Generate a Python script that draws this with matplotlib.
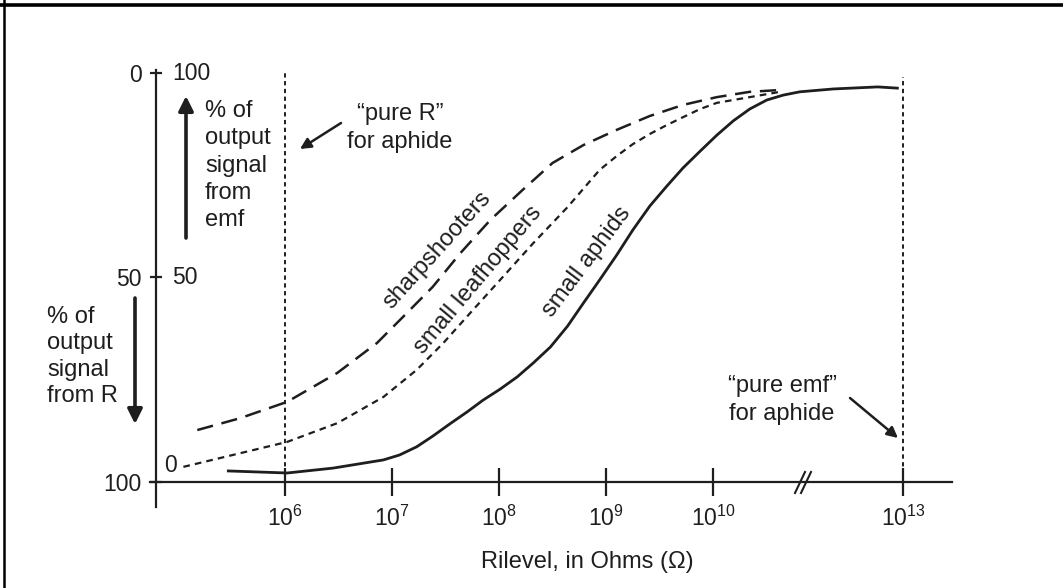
import numpy as np
import matplotlib
matplotlib.use("Agg")
import matplotlib.pyplot as plt
from matplotlib.lines import Line2D

plt.rcParams['font.family'] = ['Liberation Sans', 'DejaVu Sans']
plt.rcParams['mathtext.fontset'] = 'custom'
plt.rcParams['mathtext.rm'] = 'Liberation Sans'
plt.rcParams['mathtext.it'] = 'Liberation Sans'

INK = '#1e1e1e'

# Resistance (log10 of Ohms) and % of output signal from emf for each insect group
sharp_logR = [5.18, 5.58, 6.02, 6.49, 6.86, 7.10, 7.38, 7.64, 7.92, 8.22, 8.50, 8.79,
              9.10, 9.41, 9.72, 10.06, 10.58, 11.01]
sharp_pct = [12.7, 15.6, 19.6, 26.7, 34.0, 40.3, 47.7, 56.0, 64.1, 71.4, 78.0, 82.4,
             86.1, 89.5, 92.2, 94.1, 95.4, 95.8]

leaf_logR = [5.05, 6.02, 6.49, 6.92, 7.23, 7.48, 7.73, 8.01, 8.32, 8.64, 8.94, 9.10,
             9.25, 9.41, 9.57, 9.72, 9.88, 10.06, 10.58, 11.06]
leaf_pct = [3.7, 9.8, 14.4, 20.8, 27.4, 34.0, 41.3, 49.4, 58.4, 67.2, 76.3, 79.7,
            82.6, 85.1, 87.3, 89.2, 91.2, 92.7, 94.1, 95.4]

aphid_logR = [5.47, 6.02, 6.45, 6.92, 7.07, 7.23, 7.38, 7.54, 7.70, 7.85, 8.01, 8.17,
              8.32, 8.48, 8.64, 8.79, 8.94, 9.10, 9.25, 9.41, 9.57, 9.72, 9.88, 10.06,
              10.32, 10.58, 10.85, 11.11, 11.37, 11.90, 12.60, 12.91]
aphid_pct = [2.7, 2.2, 3.4, 5.4, 6.6, 8.6, 11.2, 14.2, 17.1, 20.0, 22.7, 25.7,
             29.1, 33.0, 38.1, 43.8, 49.4, 55.5, 61.6, 67.5, 72.4, 76.8, 80.9, 84.8,
             88.3, 91.2, 93.4, 94.6, 95.4, 96.1, 96.6, 96.3]

x_ticks = [6, 7, 8, 9, 10, 13]
x_tick_labels = [r'$10^{6}$', r'$10^{7}$', r'$10^{8}$', r'$10^{9}$', r'$10^{10}$', r'$10^{13}$']
y_ticks = [0, 50, 100]
r_scale_labels = ['100', '50', '0']      # % from R (left side)
emf_scale_labels = ['0', '50', '100']    # % from emf (right side)

pure_R_logR = 6
pure_emf_logR = 13

# Broken x axis: decades above 10^10 are compressed
BREAK = 10.0
K = 190.0 / (3 * 107.0)


def fwd(v):
    v = np.asarray(v, dtype=float)
    return np.where(v <= BREAK, v, BREAK + (v - BREAK) * K)


def inv(p):
    p = np.asarray(p, dtype=float)
    return np.where(p <= BREAK, p, BREAK + (p - BREAK) / K)


W, H = 1063, 588
fig = plt.figure(figsize=(W / 100, H / 100), dpi=100)
ax = fig.add_axes([0, 0, 1, 1])
ax.set_xscale('function', functions=(fwd, inv))
ax.set_xlim(3.336, 15.526)
ax.set_ylim(-25.92, 117.85)
ax.patch.set_alpha(0)

# axes lines
y_axis_x = 4.794
ax.spines['top'].set_visible(False)
ax.spines['right'].set_visible(False)
ax.spines['bottom'].set_position(('data', 0))
ax.spines['bottom'].set_bounds(4.738, 13.77)
ax.spines['left'].set_position(('data', y_axis_x))
ax.spines['left'].set_bounds(-6.1, 100.7)
for s in ('bottom', 'left'):
    ax.spines[s].set_linewidth(1.6)
    ax.spines[s].set_color(INK)

ax.set_xticks(x_ticks)
ax.set_xticklabels(x_tick_labels)
ax.xaxis.set_minor_locator(matplotlib.ticker.NullLocator())
ax.tick_params(axis='x', direction='inout', length=20, width=1.6, color=INK,
               labelsize=16.5, labelcolor=INK, pad=7)
ax.set_yticks(y_ticks)
ax.set_yticklabels(r_scale_labels)
ax.tick_params(axis='y', direction='inout', length=9, width=1.6, color=INK,
               labelsize=16.5, labelcolor=INK, pad=6)

# right-hand (emf) scale labels next to the y axis
for yv, lab in zip(y_ticks, emf_scale_labels):
    if yv == 0:
        ax.annotate(lab, xy=(y_axis_x, yv), xytext=(8, 5), textcoords='offset pixels',
                    ha='left', va='bottom', fontsize=16.5, color=INK)
    else:
        ax.annotate(lab, xy=(y_axis_x, yv), xytext=(16, 0), textcoords='offset pixels',
                    ha='left', va='center', fontsize=16.5, color=INK)

# reference lines for pure R / pure emf
ax.plot([pure_R_logR, pure_R_logR], [0, 100], color=INK, lw=1.4, ls=(0, (2.2, 1.8)))
ax.plot([pure_emf_logR, pure_emf_logR], [0, 99], color=INK, lw=1.4, ls=(0, (2.2, 1.8)))

# curves
ax.plot(sharp_logR, sharp_pct, color=INK, lw=1.8, ls=(0, (6.5, 3.5)))
ax.plot(leaf_logR, leaf_pct, color=INK, lw=1.6, ls=(0, (3.0, 2.3)))
ax.plot(aphid_logR, aphid_pct, color=INK, lw=2.0, ls='-')


def fp(x, y):
    return (x, H - y)


def text(x, y, s, **kw):
    kw.setdefault('fontsize', 17)
    kw.setdefault('color', INK)
    ax.annotate(s, xy=fp(x, y), xycoords='figure pixels', **kw)


def arrow(x0, y0, x1, y1, lw=2.2, ms=20):
    ax.annotate('', xy=fp(x1, y1), xytext=fp(x0, y0), xycoords='figure pixels',
                textcoords='figure pixels',
                arrowprops=dict(arrowstyle='-|>', lw=lw, color=INK,
                                mutation_scale=ms, shrinkA=0, shrinkB=0))


# curve labels
text(437, 250, 'sharpshooters', rotation=48, ha='center', va='center', rotation_mode='anchor')
text(478, 280, 'small leafhoppers', rotation=50, ha='center', va='center', rotation_mode='anchor')
text(587, 262, 'small aphids', rotation=53, ha='center', va='center', rotation_mode='anchor')

# scale descriptions with direction arrows
text(205, 100, '% of\noutput\nsignal\nfrom\nemf', ha='left', va='top', linespacing=1.31)
arrow(186, 238, 186, 96, lw=2.6, ms=22)
text(47, 306, '% of\noutput\nsignal\nfrom R', ha='left', va='top', linespacing=1.26)
arrow(135, 298, 135, 424, lw=2.6, ms=22)

# pure R / pure emf callouts
text(400, 128, '\u201cpure R\u201d\nfor aphide', ha='center', va='center',
     multialignment='center', linespacing=1.36)
arrow(341, 123, 300, 149, lw=1.8, ms=16)
text(782, 400, '\u201cpure emf\u201d\nfor aphide', ha='center', va='center',
     multialignment='center', linespacing=1.38)
arrow(850, 398, 898, 438, lw=1.8, ms=16)

# axis break mark
for dx in (0, 6):
    fig.add_artist(Line2D([(795 + dx) / W, (805 + dx) / W], [(H - 493) / H, (H - 472) / H],
                          color=INK, lw=1.5))

# x-axis title
text(587, 562, 'Rilevel, in Ohms (\u03a9)', ha='center', va='center')

# outer frame (top and left edges)
fig.add_artist(Line2D([0, 1], [(H - 4.5) / H, (H - 4.5) / H], color='black', lw=2.6))
fig.add_artist(Line2D([3.5 / W, 3.5 / W], [0, 1], color='black', lw=1.8))

fig.savefig('out.png', dpi=100, facecolor='white')
